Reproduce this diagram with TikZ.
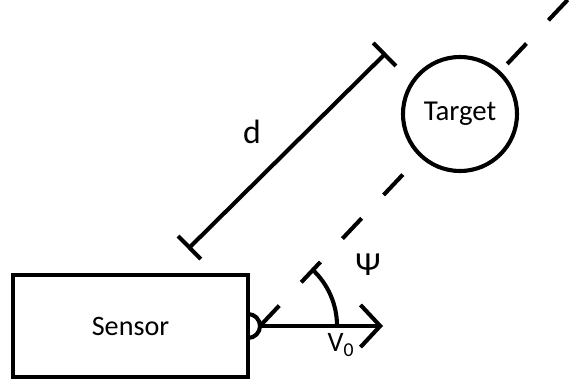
\documentclass[tikz,border=0pt]{standalone}
\usepackage{fontspec}
\setmainfont{Carlito}
\usetikzlibrary{arrows.meta,calc,backgrounds}
\tikzset{>={Straight Barb[length=14pt,width=30pt]}}
\tikzstyle{thickline}=[line width=2.9pt]
\tikzstyle{box}=[thickline,draw,rectangle,outer sep=0pt,
                 minimum width=5.875cm,minimum height=2.55cm,
                 font=\fontsize{20}{24}\selectfont]
\tikzstyle{ball}=[thickline,draw,circle,fill=white,outer sep=0pt,
                  minimum size=2.85cm,inner sep=0pt,
                  font=\fontsize{20.5}{24}\selectfont]
\tikzstyle{sight}=[thickline,dash pattern=on 19.9pt off 22.8pt]
\tikzstyle{dimline}=[thickline,{Bar[width=23pt]}-{Bar[width=23pt]}]
\tikzstyle{lbl}=[inner sep=0pt]

\begin{document}
\begin{tikzpicture}[x=0.025cm,y=0.025cm]
  \def\rlens{12} % bulge of the lens on the sensor
  \def\rang{77} % radius of the angle arc
  \useasboundingbox (0,0) rectangle (580,383);

  % SENSOR
  \node[box] (sensor) at (130.5,57) {Sensor};
  \draw[thickline] (sensor.east) ++(0,\rlens)
    arc[start angle=90,end angle=-90,radius=\rlens];
  \coordinate (lens) at ($(sensor.east)+(\rlens,0)$);

  % TARGET AND LINE OF SIGHT
  \node[ball] (target) at (460,269) {Target};
  \coordinate (far) at ($(lens)!1.54!(target.center)$);
  \begin{scope}[on background layer] % hide the dashes inside the target
    \draw[sight] (lens) -- (far);
  \end{scope}

  % VELOCITY
  \coordinate (vtip) at (383,57);
  \draw[thickline,->] (lens) -- (vtip);
  \node[lbl,font=\fontsize{20}{24}\selectfont] (vzero) at (341,38)
    {V\textsubscript{0}};

  % ANGLE
  \draw[thickline] (lens) ++(\rang,0)
    arc[start angle=0,end angle=47,radius=\rang];
  \node[lbl,font=\fontsize{24}{28}\selectfont] (psi) at (368,118) {Ψ};

  % DISTANCE
  \coordinate (dlow) at (188,134);
  \coordinate (dhigh) at (386,330);
  \draw[dimline] (dlow) -- (dhigh);
  \node[lbl,font=\fontsize{24}{28}\selectfont] (dlabel) at (252,251) {d};
\end{tikzpicture}
\end{document}
